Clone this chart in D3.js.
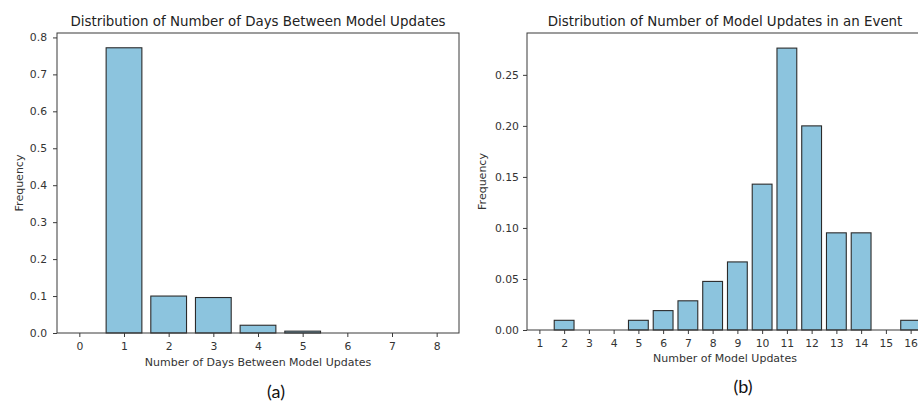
<!DOCTYPE html>
<html lang="en">
<head>
    <meta charset="UTF-8">
    <title>Model Update Distributions</title>
    <style>
        body {
            background-color: #ffffff;
            margin: 0;
            overflow: hidden;
            font-family: "DejaVu Sans", sans-serif;
        }
        svg { display: block; }
        .axis path, .axis line {
            fill: none;
            stroke: #3a3a3a;
            stroke-width: 1;
        }
        .axis text {
            font-family: "DejaVu Sans", sans-serif;
            font-size: 10.8px;
            fill: #333;
        }
        .title {
            font-family: "DejaVu Sans", sans-serif;
            font-size: 13.4px;
            fill: #222;
        }
        .axis-label {
            font-family: "DejaVu Sans", sans-serif;
            font-size: 11px;
            fill: #333;
        }
        .caption {
            font-family: Lato, "Open Sans", sans-serif;
            font-size: 18px;
            fill: #111;
        }
    </style>
</head>
<body>
    <svg id="chart" width="918" height="401"></svg>

    <script src="https://d3js.org/d3.v7.min.js"></script>
    <script>
        // Panel (a): days between model updates
        const daysCats = [0, 1, 2, 3, 4, 5, 6, 7, 8];
        const daysFreq = [0, 0.772, 0.100, 0.096, 0.021, 0.005, 0, 0, 0];
        const daysYTicks = [0, 0.1, 0.2, 0.3, 0.4, 0.5, 0.6, 0.7, 0.8];

        // Panel (b): model updates per event
        const updateCats = [1, 2, 3, 4, 5, 6, 7, 8, 9, 10, 11, 12, 13, 14, 15, 16];
        const updateFreq = [0, 0.0095, 0, 0, 0.0095, 0.0190, 0.0286, 0.0476, 0.0667,
                            0.1429, 0.2762, 0.2000, 0.0952, 0.0952, 0, 0.0095];
        const updateYTicks = [0, 0.05, 0.10, 0.15, 0.20, 0.25];

        const barFill = "#8cc4de";
        const barEdge = "#2b2b2b";

        const svg = d3.select("#chart");

        function drawPanel(cfg) {
            const g = svg.append("g");

            const x = d3.scaleLinear().domain(cfg.xDomain).range([cfg.left, cfg.right]);
            const y = d3.scaleLinear().domain(cfg.yDomain).range([cfg.bottom, cfg.top]);

            // bars (width 0.8 like matplotlib)
            g.selectAll("rect.bar")
                .data(cfg.cats.map((c, i) => ({ c: c, v: cfg.values[i] })).filter(d => d.v > 0))
                .enter().append("rect")
                .attr("class", "bar")
                .attr("x", d => x(d.c - 0.4))
                .attr("width", d => x(d.c + 0.4) - x(d.c - 0.4))
                .attr("y", d => y(d.v))
                .attr("height", d => y(0) - y(d.v))
                .attr("fill", barFill)
                .attr("stroke", barEdge)
                .attr("stroke-width", 1.1);

            // x axis
            g.append("g")
                .attr("class", "axis")
                .attr("transform", `translate(0,${cfg.bottom})`)
                .call(d3.axisBottom(x).tickValues(cfg.cats).tickFormat(d3.format("d"))
                    .tickSize(4).tickPadding(cfg.xPad).tickSizeOuter(0))
                .call(a => a.select(".domain").remove());

            // y axis
            g.append("g")
                .attr("class", "axis")
                .attr("transform", `translate(${cfg.left},0)`)
                .call(d3.axisLeft(y).tickValues(cfg.yTicks).tickFormat(d3.format(cfg.yFmt))
                    .tickSize(4).tickPadding(cfg.yPad).tickSizeOuter(0))
                .call(a => a.select(".domain").remove());

            // frame
            g.append("rect")
                .attr("x", cfg.left)
                .attr("y", cfg.top)
                .attr("width", cfg.right - cfg.left)
                .attr("height", cfg.bottom - cfg.top)
                .attr("fill", "none")
                .attr("stroke", "#3a3a3a")
                .attr("stroke-width", 1);

            g.append("text")
                .attr("class", "title")
                .attr("x", (cfg.left + cfg.right) / 2)
                .attr("y", 26)
                .attr("text-anchor", "middle")
                .text(cfg.title);

            g.append("text")
                .attr("class", "axis-label")
                .attr("x", (cfg.left + cfg.right) / 2)
                .attr("y", cfg.xLabelY)
                .attr("text-anchor", "middle")
                .text(cfg.xLabel);

            g.append("text")
                .attr("class", "axis-label")
                .attr("transform", `translate(${cfg.yLabelX},${(cfg.top + cfg.bottom) / 2}) rotate(-90)`)
                .attr("text-anchor", "middle")
                .text("Frequency");

            g.append("text")
                .attr("class", "caption")
                .attr("x", cfg.capX)
                .attr("y", cfg.capY)
                .attr("text-anchor", "middle")
                .text(cfg.caption);
        }

        drawPanel({
            cats: daysCats, values: daysFreq, yTicks: daysYTicks, yFmt: ".1f",
            xDomain: [-0.5, 8.5], yDomain: [0, 0.812],
            left: 57, right: 459, top: 33, bottom: 333, xPad: 5, yPad: 6,
            title: "Distribution of Number of Days Between Model Updates",
            xLabel: "Number of Days Between Model Updates",
            xLabelY: 366, yLabelX: 23, caption: "(a)", capX: 276, capY: 398
        });

        drawPanel({
            cats: updateCats, values: updateFreq, yTicks: updateYTicks, yFmt: ".2f",
            xDomain: [0.5, 16.5], yDomain: [0, 0.291],
            left: 527, right: 923, top: 33, bottom: 330, xPad: 5, yPad: 4,
            title: "Distribution of Number of Model Updates in an Event",
            xLabel: "Number of Model Updates",
            xLabelY: 362, yLabelX: 486, caption: "(b)", capX: 743, capY: 393
        });
    </script>
</body>
</html>
